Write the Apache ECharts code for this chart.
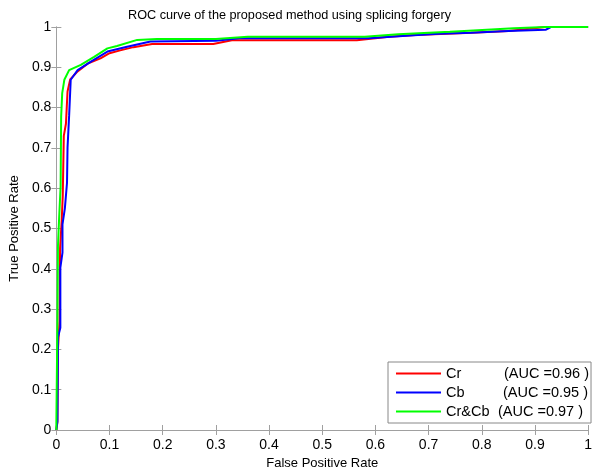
<!DOCTYPE html>
<html>
<head>
<meta charset="utf-8">
<script src="https://cdn.jsdelivr.net/npm/echarts@6/dist/echarts.min.js"></script>
<style>
  html, body { margin: 0; padding: 0; background: #fff; }
  #chart { width: 595px; height: 475px; }
</style>
</head>
<body>
<div id="chart"></div>
<script>
// ROC points, [FPR, TPR]
const crData = [
  [0, 0], [0.002, 0.02], [0.003, 0.2], [0.006, 0.27], [0.007, 0.45], [0.010, 0.52],
  [0.012, 0.58], [0.014, 0.73], [0.018, 0.76], [0.021, 0.84], [0.026, 0.87],
  [0.04, 0.89], [0.06, 0.91], [0.083, 0.922], [0.1, 0.935], [0.12, 0.942],
  [0.145, 0.95], [0.18, 0.958], [0.295, 0.958], [0.33, 0.967], [0.565, 0.967],
  [0.6, 0.972], [0.625, 0.976], [0.675, 0.98], [0.77, 0.985], [0.85, 0.99],
  [0.92, 1.0], [1, 1]
];
const cbData = [
  [0, 0], [0.002, 0.022], [0.003, 0.23], [0.0075, 0.254], [0.0075, 0.403],
  [0.0115, 0.44], [0.0115, 0.51], [0.016, 0.55], [0.02, 0.613], [0.021, 0.70],
  [0.024, 0.78], [0.027, 0.869], [0.04, 0.893], [0.065, 0.914], [0.096, 0.939],
  [0.133, 0.951], [0.177, 0.964], [0.3, 0.966], [0.344, 0.972], [0.587, 0.972],
  [0.68, 0.98], [0.72, 0.983], [0.78, 0.986], [0.85, 0.99], [0.92, 0.993],
  [0.93, 1.0], [1, 1]
];
const crcbData = [
  [0, 0], [0.0, 0.02], [0.002, 0.27], [0.003, 0.456], [0.005, 0.52], [0.008, 0.604],
  [0.009, 0.778], [0.011, 0.836], [0.015, 0.869], [0.024, 0.893], [0.046, 0.906],
  [0.071, 0.926], [0.096, 0.947], [0.114, 0.953], [0.152, 0.968], [0.189, 0.97],
  [0.3, 0.97], [0.36, 0.976], [0.58, 0.976], [0.643, 0.982], [0.74, 0.988],
  [0.767, 0.99], [0.86, 0.997], [0.92, 1.0], [1, 1]
];
const seriesNames = ["Cr", "Cb", "Cr&Cb"];
const aucLabels = ["(AUC =0.96 )", "(AUC =0.95 )", "(AUC =0.97 )"];
const seriesColors = ["#ff0000", "#0000ff", "#00ff00"];
const allData = [crData, cbData, crcbData];

const font = "Arial, 'Liberation Sans', sans-serif";
const richKeys = ["r", "b", "g"];
const nameWidths = [58, 57, 52];
const legendSize = 14.5;

const chart = echarts.init(document.getElementById("chart"));

const axisCommon = {
  type: "value",
  min: 0,
  max: 1,
  interval: 0.1,
  axisLine: { show: true, lineStyle: { color: "#a0a0a0", width: 1 } },
  axisTick: { show: true, inside: true, length: 5, lineStyle: { color: "#a0a0a0" } },
  splitLine: { show: false },
};

const rich = { a: { fontFamily: font, fontSize: legendSize, color: "#000" } };
richKeys.forEach(function (k, i) {
  rich[k] = { fontFamily: font, fontSize: legendSize, color: "#000", width: nameWidths[i] };
});

const option = {
  backgroundColor: "#fff",
  animation: false,
  title: {
    text: "ROC curve of the proposed method using splicing forgery",
    left: 123,
    top: 4,
    textStyle: { fontFamily: font, fontSize: 12.7, fontWeight: "normal", color: "#000" },
  },
  grid: { left: 55, top: 27, width: 537, height: 404, show: false },
  legend: {
    orient: "vertical",
    left: 388,
    top: 362,
    padding: [4, 2, 4, 8],
    icon: "rect",
    itemWidth: 45,
    itemHeight: 2,
    itemGap: 4,
    borderColor: "#888",
    borderWidth: 1,
    backgroundColor: "#fff",
    data: seriesNames,
    formatter: function (name) {
      const i = seriesNames.indexOf(name);
      return "{" + richKeys[i] + "|" + name + "}{a|" + aucLabels[i] + "}";
    },
    textStyle: { fontFamily: font, fontSize: legendSize, color: "#000", rich: rich },
  },
  xAxis: [
    Object.assign({}, axisCommon, {
      position: "bottom",
      name: "False Positive Rate",
      nameLocation: "middle",
      nameGap: 27,
      nameTextStyle: { fontFamily: font, fontSize: 13, color: "#000" },
      axisLabel: { fontFamily: font, fontSize: 14, color: "#000", margin: 8 },
    }),
    Object.assign({}, axisCommon, { position: "top", axisLabel: { show: false } }),
  ],
  yAxis: [
    Object.assign({}, axisCommon, {
      position: "left",
      name: "True Positive Rate",
      nameLocation: "middle",
      nameGap: 35,
      nameTextStyle: { fontFamily: font, fontSize: 13, color: "#000" },
      axisLabel: { fontFamily: font, fontSize: 14, color: "#000", margin: 5 },
    }),
    Object.assign({}, axisCommon, { position: "right", axisLabel: { show: false } }),
  ],
  series: seriesNames.map(function (name, i) {
    return {
      name: name,
      type: "line",
      data: allData[i],
      symbol: "none",
      color: seriesColors[i],
      lineStyle: { color: seriesColors[i], width: 2 },
      xAxisIndex: 0,
      yAxisIndex: 0,
    };
  }),
};

chart.setOption(option);
</script>
</body>
</html>
